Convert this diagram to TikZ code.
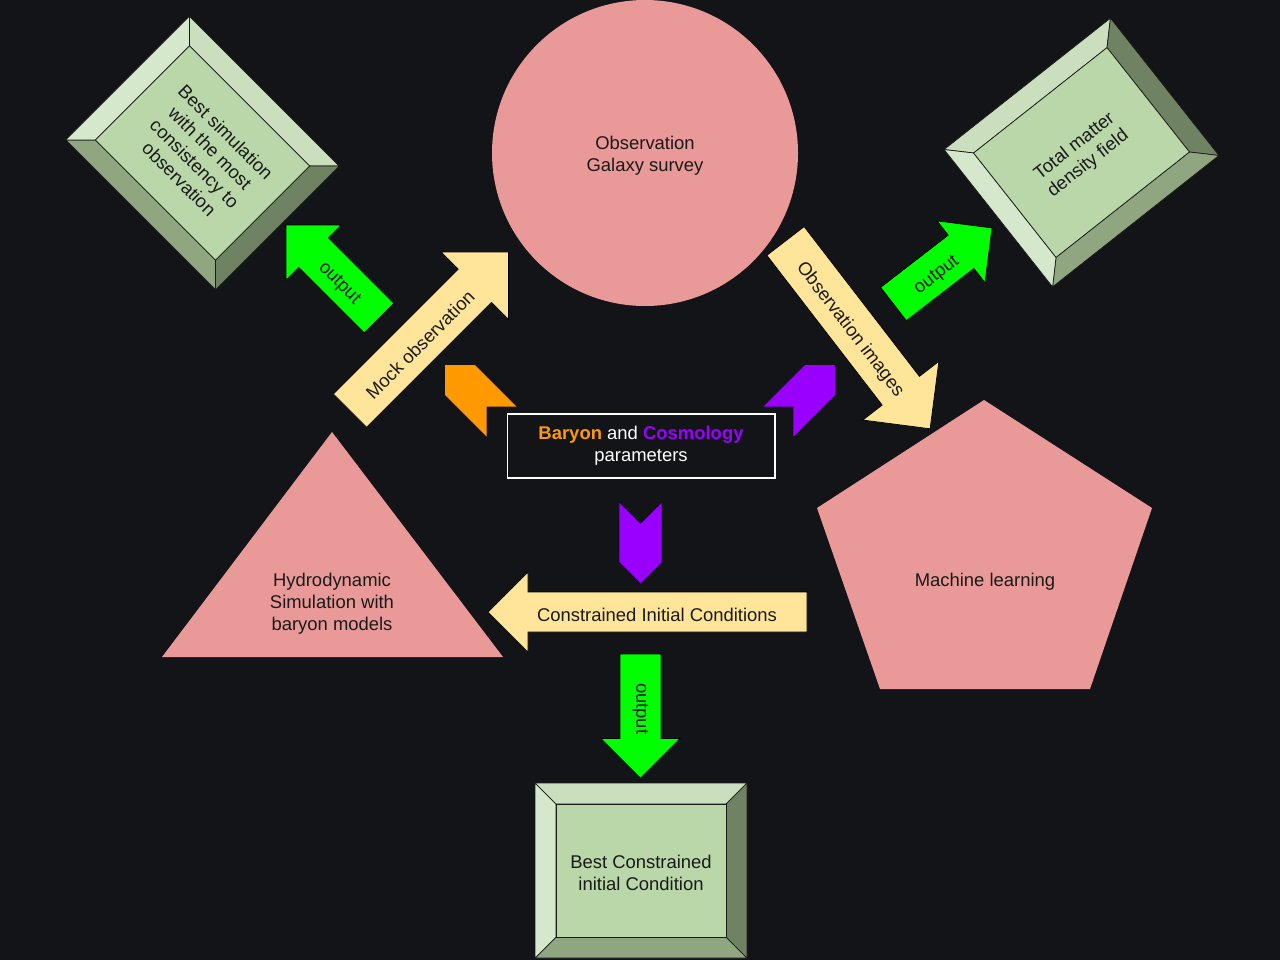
\documentclass[tikz,border=0pt]{standalone}
\usepackage{fontspec}
\setmainfont{Liberation Sans}
\definecolor{bg}{HTML}{131417}
\definecolor{pk}{HTML}{EA9999}
\definecolor{yl}{HTML}{FFE599}
\definecolor{gr}{HTML}{00FF00}
\definecolor{baryon}{HTML}{FF9900}
\definecolor{cosmo}{HTML}{9900FF}
\definecolor{bvmid}{HTML}{B9D7A8}
\definecolor{bvtop}{HTML}{CBDFBE}
\definecolor{bvleft}{HTML}{D6E8CB}
\definecolor{bvright}{HTML}{6F8363}
\definecolor{bvbot}{HTML}{8FA680}
\definecolor{ink}{HTML}{1A1A1A}

% block arrow: style, tail centre, angle, length, half shaft, half head
\newcommand{\blockarrow}[6]{%
  \filldraw[#1,shift={#2},rotate=#3] (0,-#5) -- ({#4-#6},-#5) -- ({#4-#6},-#6) -- (#4,0)
    -- ({#4-#6},#6) -- ({#4-#6},#5) -- (0,#5) -- cycle;}
% chevron: colour, back centre, angle
\newcommand{\chevron}[3]{%
  \fill[#1,shift={#2},rotate=#3] (0,-21.2) -- (58.8,-21.2) -- (80,0) -- (58.8,21.2)
    -- (0,21.2) -- (21.2,0) -- cycle;}
% bevelled box: name, centre, angle, text
\newcommand{\bevelbox}[4]{%
  \begin{scope}[shift={#2},rotate=#3]
    \filldraw[bvtop,bevel] (-106,-87.5) -- (106,-87.5) -- (85,-66.5) -- (-85,-66.5) -- cycle;
    \filldraw[bvright,bevel] (106,-87.5) -- (106,87.5) -- (85,66.5) -- (85,-66.5) -- cycle;
    \filldraw[bvbot,bevel] (106,87.5) -- (-106,87.5) -- (-85,66.5) -- (85,66.5) -- cycle;
    \filldraw[bvleft,bevel] (-106,87.5) -- (-106,-87.5) -- (-85,-66.5) -- (-85,66.5) -- cycle;
    \filldraw[bvmid,bevel] (-85,-66.5) rectangle (85,66.5);
    \node[txt,rotate=#3] (#1) at (0,0) {#4};
  \end{scope}}

\begin{document}
\begin{tikzpicture}[x=0.02cm,y=-0.02cm,
  txt/.style={text=ink,align=center,yshift=-1.5pt,font=\fontsize{10.5}{12.5}\selectfont},
  bevel/.style={draw=ink,line width=0.4pt},
  yarrow/.style={fill=yl,draw=black,line width=0.4pt},
  garrow/.style={fill=gr,draw=black,line width=0.4pt}]
  \fill[bg] (0,0) rectangle (1280,960);

  % main shapes
  \fill[pk] (645,153) circle (153);
  \node[txt] (obs) at (645,153) {Observation\\Galaxy survey};
  \fill[pk] (332,432) -- (503,657) -- (162,657) -- cycle;
  \node[txt] (hydro) at (332,601) {Hydrodynamic\\Simulation with\\baryon models};
  \fill[pk] (984,400) -- (1152,508) -- (1090,689) -- (880,689) -- (817,508) -- cycle;
  \node[txt] (ml) at (985,579) {Machine learning};
  \node[draw=white,fill=bg,line width=0.6pt,minimum width=5.36cm,minimum height=1.28cm,
    align=center,text=white,font=\fontsize{10.5}{12.5}\selectfont] (params) at (641,446)
    {\textcolor{baryon}{\textbf{Baryon}} and \textcolor{cosmo}{\textbf{Cosmology}}\\parameters};

  % outputs
  \bevelbox{bestsim}{(202.5,153)}{-45}{Best simulation\\with the most\\consistency to\\observation}
  \bevelbox{density}{(1081.5,152.5)}{38.3}{Total matter\\density field}
  \bevelbox{bestic}{(641,870.5)}{0}{Best Constrained\\initial Condition}

  % arrows
  \blockarrow{yarrow}{(350,410.5)}{45}{224}{23.5}{47.5}
  \node[txt,rotate=45] (mock) at (420,342) {Mock observation};
  \blockarrow{yarrow}{(785.5,241)}{-52.4}{237}{23.5}{48}
  \node[txt,rotate=-52.4] (images) at (850,327) {Observation images};
  \blockarrow{yarrow}{(807,612)}{180}{319}{20}{40}
  \node[txt] (ics) at (657,612) {Constrained Initial Conditions};
  \blockarrow{garrow}{(379,318)}{135}{131.5}{21}{39}
  \node[txt,rotate=-45] (out1) at (339,281) {output};
  \blockarrow{garrow}{(893.5,304)}{37.7}{124.4}{21}{39}
  \node[txt,rotate=37.7] (out2) at (937,273) {output};
  \blockarrow{garrow}{(640.5,654)}{-90}{124}{20.5}{39.5}
  \node[txt,rotate=-90] (out3) at (640.5,706) {output};

  % parameter chevrons
  \chevron{baryon}{(501.6,421.6)}{135}
  \chevron{cosmo}{(778.4,421.6)}{45}
  \chevron{cosmo}{(640.5,503)}{-90}
\end{tikzpicture}
\end{document}
